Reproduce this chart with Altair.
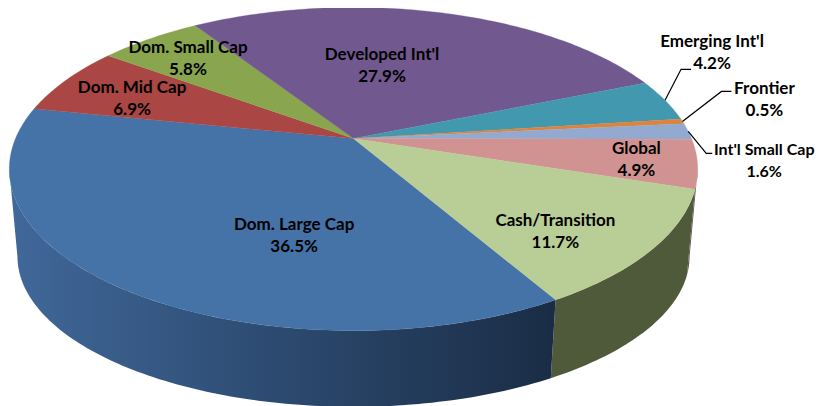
import math
import altair as alt

categories = ["Dom. Large Cap", "Dom. Mid Cap", "Dom. Small Cap", "Developed Int'l", "Emerging Int'l",
              "Frontier", "Int'l Small Cap", "Global", "Cash/Transition"]
shares = [36.5, 6.9, 5.8, 27.9, 4.2, 0.5, 1.6, 4.9, 11.7]
top_colors = ["#4572A7", "#AA4643", "#89A54E", "#71588F", "#4198AF", "#DB843D", "#93A9CF", "#D19392", "#B9CD96"]

# layout / style
START = 30.0          # degrees from the front of the disc, going clockwise on screen
K = 0.189             # perspective strength
TOP = dict(cx=345.5, cy=130.5, R=338.0, S=155.8)
BOT = dict(cx=345.5, cy=220.0, R=330.0, S=145.0)
TANGENT = 79.0        # where the disc's rim turns away from the viewer
inside_label = {0: (71, 3), 1: (-44, -14), 2: (-37, -28), 3: (-26, -3), 7: (79, -4), 8: (32, 19)}
# leader: rim -> elbow offset -> horizontal run -> label centre offset
leaders = {4: ((16, -31), 10, (21, -27)), 5: ((39, -30), 10, (33, -2)), 6: ((18, 22), 6, (52, -3))}
label_size = {6: 16}


def pt(theta, f=1.0, d=TOP):
    a = math.radians(theta)
    u, v = f * math.sin(a), f * math.cos(a)
    w = 1 - K * v
    return [d["cx"] + d["R"] * u / w, d["cy"] + d["S"] * v / w]


def arc(a0, a1):
    n = max(2, int(abs(a1 - a0)) + 1)
    return [a0 + (a1 - a0) * i / n for i in range(n + 1)]


bounds = [START]
for s in shares:
    bounds.append(bounds[-1] - s * 3.6)
mids = [(bounds[i] + bounds[i + 1]) / 2 for i in range(len(shares))]

top_features = []
for i, name in enumerate(categories):
    ring = [pt(0, 0.0)] + [pt(t) for t in arc(bounds[i], bounds[i + 1])] + [pt(0, 0.0)]
    top_features.append({"type": "Feature", "properties": {"name": name},
                         "geometry": {"type": "Polygon", "coordinates": [ring]}})


def wall(a0, a1):
    angles = arc(a0, a1)
    ring = [pt(t) for t in angles] + [pt(t, d=BOT) for t in reversed(angles)]
    ring.append(ring[0])
    return [{"type": "Feature", "properties": {},
             "geometry": {"type": "Polygon", "coordinates": [ring]}}]


def wall_layer(a0, a1, fill):
    return (alt.Chart(alt.Data(values=wall(a0, a1))).mark_geoshape(fill=fill, strokeWidth=0)
            .project(type="identity", scale=1, translate=[0, 0]))


blue_grad = alt.Gradient(gradient="linear", x1=0, x2=1, y1=0, y2=0, stops=[
    alt.GradientStop(color="#41689A", offset=0),
    alt.GradientStop(color="#305078", offset=0.4),
    alt.GradientStop(color="#1A2C45", offset=1)])

walls = (wall_layer(bounds[8], TANGENT - 360, "#6A5150")
         + wall_layer(bounds[9], bounds[8], "#4F5A3B"))
walls_front = wall_layer(bounds[0], -TANGENT, blue_grad)

top = alt.Chart(alt.Data(values=top_features)).mark_geoshape(strokeWidth=0.3).encode(
    color=alt.Color("properties.name:N", scale=alt.Scale(domain=categories, range=top_colors), legend=None),
    stroke=alt.Stroke("properties.name:N", scale=alt.Scale(domain=categories, range=top_colors), legend=None),
).project(type="identity", scale=1, translate=[0, 0])

label_rows = []
line_rows = []
for i, name in enumerate(categories):
    text = f"{name}\n{shares[i]:.1f}%"
    fs = label_size.get(i, 17)
    if i in inside_label:
        x, y = pt(mids[i], 0.6)
        dx, dy = inside_label[i]
        label_rows.append({"x": x + dx, "y": y + dy, "t": text, "fs": fs})
    else:
        x, y = pt(mids[i])
        (ex, ey), run, (lx, ly) = leaders[i]
        px = [(x, y), (x + ex, y + ey), (x + ex + run, y + ey)]
        for j, (a, b) in enumerate(px):
            line_rows.append({"x": a, "y": b, "g": name, "o": j})
        label_rows.append({"x": x + ex + run + lx, "y": y + ey + ly, "t": text, "fs": fs})

xs = alt.Scale(domain=[0, 809], range=[0, 809])
ys = alt.Scale(domain=[0, 398], range=[0, 398])

lines = alt.Chart(alt.Data(values=line_rows)).mark_line(color="#000000", strokeWidth=1.2).encode(
    x=alt.X("x:Q", scale=xs, axis=None), y=alt.Y("y:Q", scale=ys, axis=None), detail="g:N", order="o:Q")

labels = alt.Chart(alt.Data(values=label_rows)).mark_text(
    font="Lato", fontWeight="bold", lineBreak="\n", lineHeight=22,
    align="center", baseline="middle", color="#000000").encode(
    x=alt.X("x:Q", scale=xs, axis=None), y=alt.Y("y:Q", scale=ys, axis=None), text="t:N",
    size=alt.Size("fs:Q", scale=None, legend=None))

chart = alt.layer(walls, walls_front, top, lines, labels).properties(
    width=809, height=398, padding=0, background="#ffffff", autosize=alt.AutoSizeParams(type="none"),
).configure_view(stroke=None)

chart.save("out.html", embed_options={"renderer": "svg", "actions": False})
